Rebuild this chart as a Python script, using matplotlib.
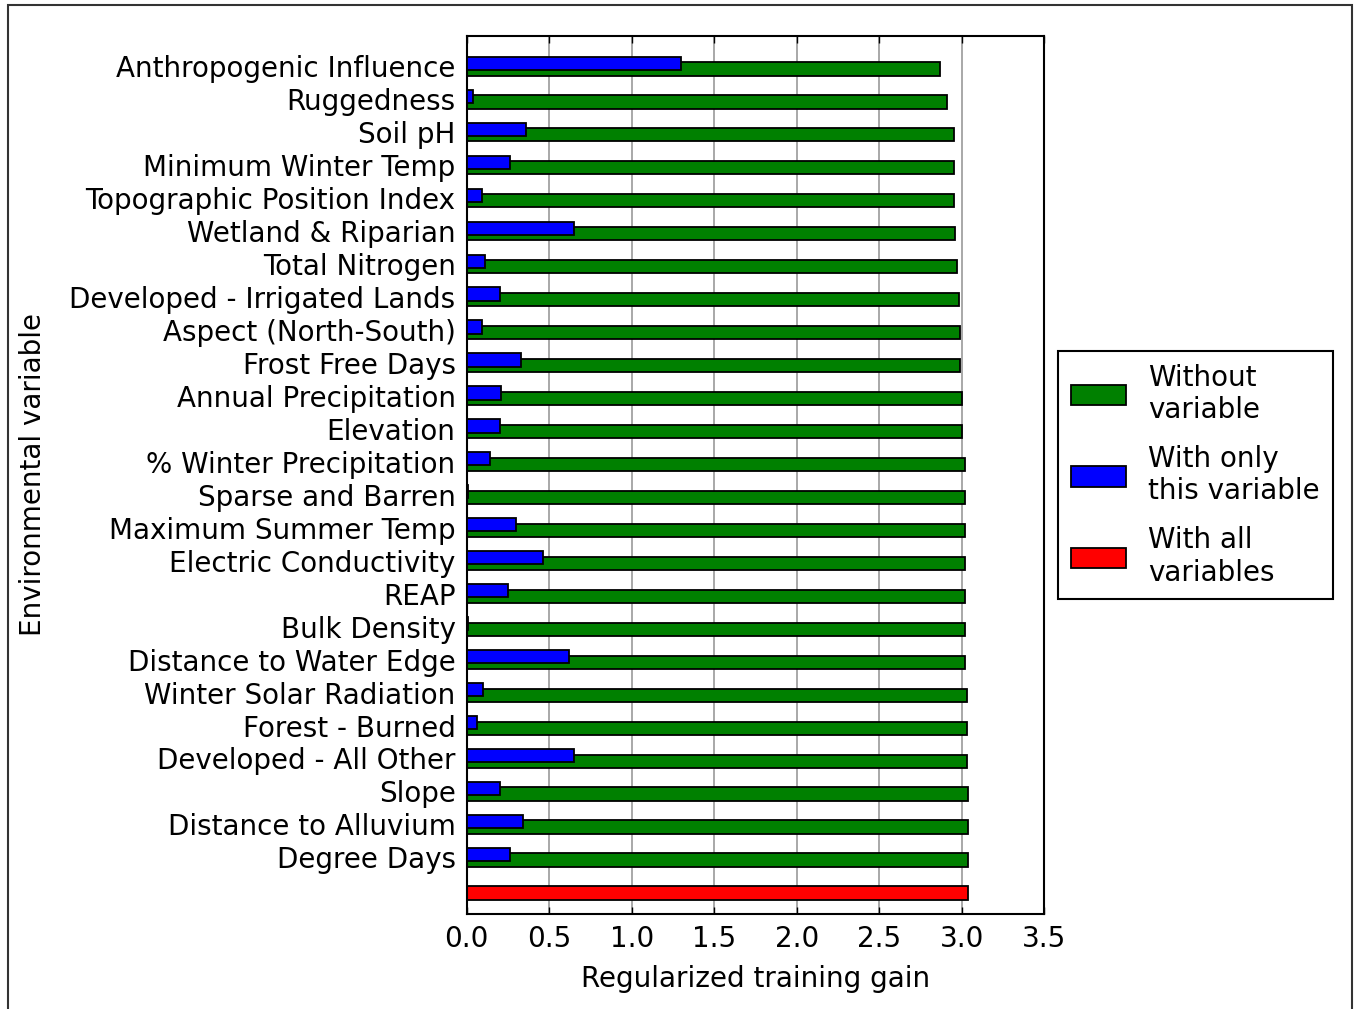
import matplotlib
matplotlib.use("Agg")
import matplotlib.pyplot as plt
import numpy as np
from matplotlib.patches import Rectangle

# Jackknife of regularized training gain, top row first
variables = [
    "Anthropogenic Influence", "Ruggedness", "Soil pH", "Minimum Winter Temp",
    "Topographic Position Index", "Wetland & Riparian", "Total Nitrogen",
    "Developed - Irrigated Lands", "Aspect (North-South)", "Frost Free Days",
    "Annual Precipitation", "Elevation", "% Winter Precipitation",
    "Sparse and Barren", "Maximum Summer Temp", "Electric Conductivity",
    "REAP", "Bulk Density", "Distance to Water Edge", "Winter Solar Radiation",
    "Forest - Burned", "Developed - All Other", "Slope",
    "Distance to Alluvium", "Degree Days",
]
without_var = [
    2.87, 2.91, 2.95, 2.95, 2.95, 2.96, 2.97, 2.98, 2.99, 2.99, 3.00, 3.00,
    3.02, 3.02, 3.02, 3.02, 3.02, 3.02, 3.02, 3.03, 3.03, 3.03, 3.04, 3.04,
    3.04,
]
only_var = [
    1.30, 0.04, 0.36, 0.26, 0.09, 0.65, 0.11, 0.20, 0.09, 0.33, 0.21, 0.20,
    0.14, 0.005, 0.30, 0.46, 0.25, 0.005, 0.62, 0.10, 0.06, 0.65, 0.20, 0.34,
    0.26,
]
all_vars = 3.04

plt.rcParams['font.family'] = ['DejaVu Sans']
plt.rcParams['font.size'] = 20

fig = plt.figure(figsize=(13.54, 10.09), dpi=100)
ax = fig.add_axes([0.3447, 0.0938, 0.4266, 0.8705])

n = len(variables)
pos = np.arange(n, 0, -1)  # top row gets the largest position
h = 0.40

ax.grid(axis='x', color='#999999', linestyle='-', linewidth=1.2, zorder=0)
ax.set_axisbelow(True)

ax.barh(pos, without_var, height=h, color='green', edgecolor='black',
        linewidth=1.3, label='Without\nvariable', zorder=2)
ax.barh(pos + 0.17, only_var, height=h, color='blue', edgecolor='black',
        linewidth=1.3, label='With only\nthis variable', zorder=3)
ax.barh([0], [all_vars], height=h, color='red', edgecolor='black',
        linewidth=1.3, label='With all\nvariables', zorder=2)

ax.set_yticks(pos + 0.08)
ax.set_yticklabels(variables)
ax.set_ylim(-0.65, n + 1.0)
ax.set_xlim(0, 3.5)
ax.set_xticks(np.arange(0, 3.51, 0.5))
ax.set_xticklabels([f"{v:.1f}" for v in np.arange(0, 3.51, 0.5)])
ax.tick_params(axis='both', direction='in', top=True, right=True,
               length=5, width=1, pad=8)
ax.tick_params(axis='y', length=0, pad=8)
for s in ax.spines.values():
    s.set_linewidth(1.5)

ax.set_xlabel("Regularized training gain", labelpad=8)
fig.text(0.0245, 0.53, "Environmental variable", rotation=90,
         ha='center', va='center', fontsize=20)

leg = ax.legend(loc='center left', bbox_to_anchor=(1.024, 0.50),
                fancybox=False, edgecolor='black', framealpha=1,
                handlelength=2.0, handleheight=0.75, handletextpad=0.8,
                labelspacing=0.75, borderpad=0.45, borderaxespad=0)
leg.get_frame().set_linewidth(1.5)

# frame of the cropped screenshot
fig.patches.append(Rectangle((8 / 1354, -0.1), (1352 - 8) / 1354, 1.1 - 5 / 1009,
                             transform=fig.transFigure, fill=False,
                             edgecolor='#333333', linewidth=1.5))

fig.savefig("out.png", dpi=100)
